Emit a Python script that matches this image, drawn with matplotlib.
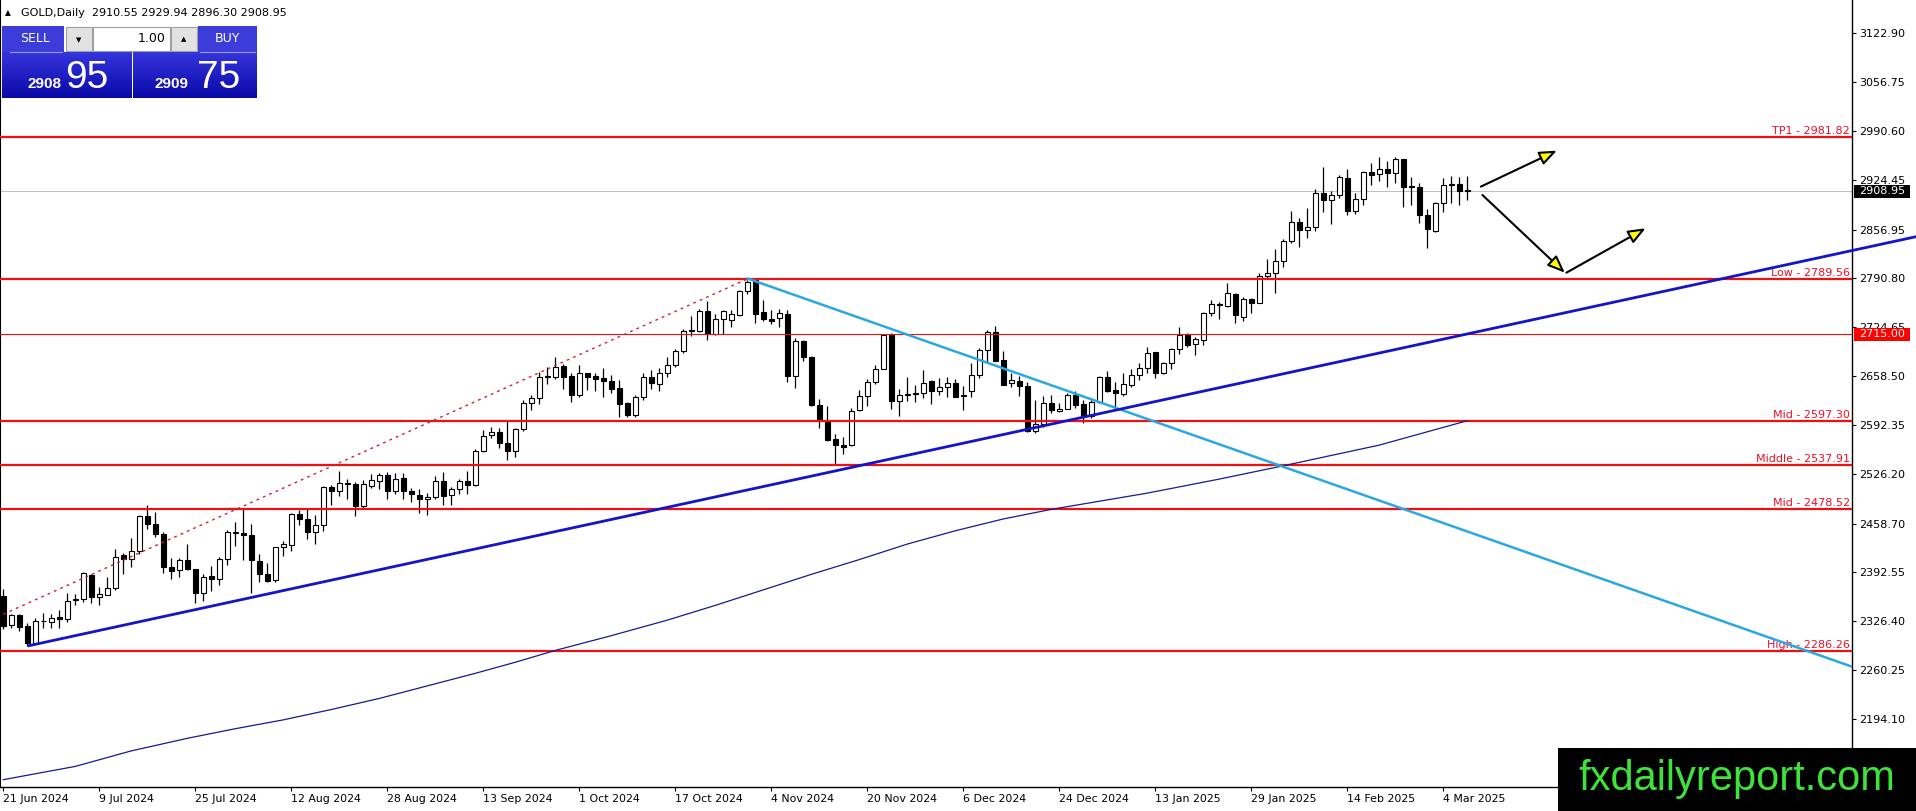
import numpy as np
import matplotlib
matplotlib.use("Agg")
import matplotlib.pyplot as plt
import matplotlib.transforms as mtransforms
from matplotlib.patches import Rectangle
from matplotlib.colors import LinearSegmentedColormap

# GOLD daily candles, 21 Jun 2024 .. 7 Mar 2025 (one value per trading day)
opens = [2360.7, 2321.0, 2335.0, 2320.0, 2297.5, 2327.0, 2326.0, 2332.0, 2329.0, 2355.8,
         2356.0, 2388.7, 2359.0, 2362.5, 2371.0, 2416.2, 2410.3, 2421.6, 2469.0, 2458.2,
         2444.6, 2400.4, 2395.9, 2409.4, 2396.8, 2365.2, 2387.8, 2383.3, 2410.3, 2446.8,
         2446.5, 2442.8, 2408.6, 2390.5, 2382.4, 2426.6, 2429.3, 2471.8, 2465.0, 2446.9,
         2456.4, 2507.9, 2503.4, 2513.3, 2512.4, 2482.6, 2509.7, 2516.9, 2524.1, 2503.4,
         2520.0, 2503.4, 2497.9, 2491.6, 2494.3, 2516.0, 2497.0, 2505.2, 2516.0, 2510.6,
         2557.5, 2578.2, 2582.3, 2568.3, 2557.5, 2586.3, 2621.5, 2628.8, 2657.2, 2656.7,
         2672.1, 2658.5, 2633.3, 2662.2, 2658.5, 2655.8, 2651.3, 2642.3, 2621.5, 2606.2,
         2629.7, 2656.7, 2648.2, 2662.2, 2673.0, 2692.0, 2720.8, 2719.0, 2747.0, 2715.4,
         2735.3, 2734.4, 2740.7, 2773.2, 2788.1, 2745.2, 2735.3, 2737.1, 2742.0, 2658.6,
         2705.5, 2684.3, 2618.8, 2596.3, 2572.8, 2565.6, 2564.7, 2612.0, 2631.5, 2650.4,
         2668.5, 2714.5, 2624.3, 2632.4, 2636.0, 2636.0, 2651.3, 2637.8, 2643.2, 2648.6,
         2633.3, 2637.8, 2659.5, 2693.8, 2718.2, 2680.3, 2648.7, 2651.4, 2645.1, 2584.6,
         2593.6, 2622.5, 2611.7, 2614.4, 2632.4, 2620.7, 2604.9, 2623.9, 2656.8, 2639.7,
         2634.2, 2646.9, 2660.4, 2669.0, 2690.6, 2662.2, 2676.7, 2695.6, 2714.1, 2701.5,
         2707.3, 2744.0, 2755.6, 2753.4, 2769.6, 2738.9, 2762.4, 2757.9, 2794.0, 2797.6,
         2813.9, 2841.8, 2867.1, 2856.3, 2859.9, 2906.8, 2896.9, 2903.2, 2926.3, 2882.5,
         2897.8, 2934.8, 2932.1, 2938.4, 2933.9, 2952.0, 2915.0, 2915.0, 2876.1, 2855.4,
         2892.4, 2917.7, 2918.6, 2910.55]
highs = [2369.7, 2337.0, 2336.3, 2323.7, 2330.5, 2338.0, 2337.0, 2341.8, 2364.3, 2364.0,
         2393.6, 2390.5, 2372.4, 2386.0, 2423.9, 2418.5, 2438.8, 2470.5, 2483.9, 2474.9,
         2447.8, 2411.7, 2411.7, 2431.1, 2397.7, 2390.5, 2401.3, 2413.0, 2450.0, 2461.4,
         2478.0, 2458.0, 2417.6, 2405.9, 2427.5, 2435.6, 2472.7, 2477.2, 2478.1, 2470.4,
         2509.7, 2511.0, 2530.4, 2519.6, 2515.1, 2517.8, 2525.9, 2527.7, 2529.0, 2526.8,
         2527.7, 2506.5, 2505.2, 2499.7, 2523.2, 2528.6, 2507.9, 2518.7, 2529.5, 2559.3,
         2585.5, 2589.1, 2587.7, 2599.0, 2587.7, 2626.0, 2633.3, 2664.4, 2670.3, 2684.7,
         2674.8, 2662.2, 2673.0, 2662.6, 2662.2, 2668.9, 2659.4, 2653.1, 2623.8, 2633.3,
         2662.2, 2666.7, 2668.9, 2683.8, 2695.5, 2721.7, 2739.8, 2748.8, 2759.6, 2742.5,
         2747.9, 2747.9, 2774.5, 2788.1, 2790.3, 2761.0, 2747.5, 2749.7, 2747.5, 2710.0,
         2707.3, 2685.6, 2627.9, 2617.9, 2580.5, 2576.0, 2615.2, 2639.2, 2654.0, 2673.9,
         2715.9, 2717.2, 2640.5, 2656.7, 2645.9, 2666.2, 2652.7, 2655.8, 2657.2, 2655.0,
         2645.0, 2676.0, 2696.0, 2720.9, 2726.3, 2692.9, 2662.2, 2658.6, 2650.9, 2626.1,
         2631.5, 2632.9, 2621.6, 2635.1, 2637.9, 2626.1, 2626.1, 2658.6, 2665.8, 2650.9,
         2663.1, 2668.5, 2676.7, 2697.4, 2691.5, 2678.0, 2696.5, 2724.5, 2716.4, 2710.9,
         2745.7, 2762.0, 2759.3, 2785.0, 2771.4, 2766.0, 2763.8, 2797.6, 2816.6, 2830.1,
         2843.7, 2882.5, 2872.1, 2885.6, 2911.3, 2942.0, 2909.5, 2930.8, 2938.4, 2906.8,
         2936.6, 2946.5, 2954.7, 2950.2, 2955.6, 2952.9, 2928.5, 2919.5, 2884.3, 2894.2,
         2926.7, 2929.4, 2928.5, 2929.94]
lows = [2315.6, 2317.4, 2313.8, 2293.0, 2296.0, 2318.0, 2318.0, 2318.0, 2326.0, 2348.0,
        2353.0, 2350.8, 2348.5, 2361.6, 2369.5, 2390.5, 2400.0, 2418.0, 2451.0, 2441.0,
        2392.3, 2383.3, 2386.9, 2395.9, 2351.7, 2354.4, 2368.0, 2375.6, 2402.7, 2428.4,
        2410.0, 2364.3, 2380.1, 2380.1, 2380.1, 2415.4, 2422.1, 2456.9, 2437.5, 2431.1,
        2449.2, 2483.5, 2496.1, 2491.6, 2469.0, 2480.0, 2507.0, 2505.2, 2491.6, 2498.8,
        2491.6, 2488.5, 2472.7, 2470.9, 2491.6, 2484.4, 2484.4, 2498.8, 2498.8, 2509.7,
        2556.2, 2574.2, 2560.6, 2544.8, 2549.3, 2584.5, 2612.5, 2620.6, 2647.7, 2654.0,
        2640.5, 2623.8, 2630.6, 2639.6, 2638.7, 2630.6, 2636.0, 2603.5, 2603.5, 2602.6,
        2626.0, 2640.5, 2637.8, 2657.6, 2670.3, 2689.2, 2712.7, 2718.1, 2707.3, 2713.6,
        2715.4, 2725.3, 2739.8, 2770.0, 2730.8, 2732.6, 2729.4, 2724.4, 2650.4, 2642.3,
        2678.4, 2617.9, 2588.2, 2570.1, 2539.9, 2553.4, 2563.8, 2610.7, 2617.9, 2648.2,
        2667.6, 2614.3, 2604.4, 2624.3, 2623.4, 2628.8, 2621.1, 2633.3, 2630.6, 2629.7,
        2612.0, 2630.0, 2655.5, 2675.8, 2678.5, 2646.0, 2643.3, 2631.5, 2583.2, 2581.9,
        2590.0, 2608.1, 2609.9, 2613.5, 2614.8, 2595.4, 2601.3, 2622.5, 2637.4, 2614.8,
        2631.5, 2644.2, 2653.2, 2663.1, 2655.4, 2661.3, 2668.5, 2688.4, 2698.3, 2687.5,
        2700.6, 2740.0, 2735.3, 2752.5, 2729.9, 2733.5, 2743.5, 2757.0, 2790.9, 2771.4,
        2806.7, 2838.2, 2832.8, 2845.0, 2854.5, 2880.7, 2864.4, 2899.2, 2876.6, 2877.5,
        2890.1, 2917.7, 2923.1, 2915.0, 2920.4, 2887.0, 2889.7, 2866.2, 2831.5, 2853.6,
        2880.7, 2893.3, 2889.7, 2896.30]
closes = [2320.1, 2334.5, 2318.3, 2297.5, 2327.3, 2326.6, 2330.5, 2329.0, 2354.4, 2356.2,
          2391.4, 2359.0, 2363.4, 2371.5, 2414.0, 2410.4, 2421.6, 2469.0, 2457.7, 2444.2,
          2400.4, 2395.0, 2409.4, 2396.8, 2364.3, 2386.0, 2383.3, 2410.3, 2447.4, 2446.2,
          2442.8, 2409.4, 2390.5, 2381.5, 2426.6, 2430.7, 2471.8, 2464.5, 2446.9, 2456.4,
          2507.9, 2503.4, 2513.3, 2512.9, 2482.6, 2512.4, 2517.8, 2524.1, 2503.4, 2519.6,
          2502.4, 2498.8, 2492.5, 2495.2, 2516.0, 2496.6, 2505.2, 2516.4, 2510.6, 2557.5,
          2577.3, 2582.5, 2568.3, 2557.5, 2586.3, 2621.5, 2628.8, 2656.7, 2657.6, 2671.2,
          2656.7, 2633.3, 2662.2, 2657.6, 2654.9, 2652.2, 2641.4, 2620.6, 2606.2, 2629.7,
          2656.7, 2648.6, 2662.2, 2673.0, 2692.0, 2719.9, 2719.0, 2747.0, 2715.4, 2735.3,
          2746.1, 2742.5, 2773.2, 2785.8, 2742.9, 2735.3, 2733.5, 2743.4, 2658.6, 2705.5,
          2683.8, 2618.8, 2599.9, 2571.5, 2564.7, 2562.0, 2610.7, 2631.5, 2650.4, 2668.5,
          2714.5, 2624.3, 2632.4, 2634.7, 2634.5, 2649.5, 2637.8, 2643.7, 2648.6, 2630.6,
          2631.5, 2659.5, 2693.8, 2718.2, 2679.4, 2646.4, 2653.2, 2645.5, 2584.6, 2593.6,
          2621.6, 2612.6, 2614.4, 2632.9, 2619.3, 2604.9, 2623.9, 2656.8, 2638.8, 2635.1,
          2647.3, 2660.4, 2669.0, 2689.3, 2662.2, 2676.7, 2695.6, 2713.7, 2700.6, 2708.3,
          2744.4, 2755.8, 2755.1, 2770.5, 2740.8, 2762.4, 2757.9, 2794.0, 2798.5, 2813.9,
          2841.8, 2867.1, 2856.3, 2859.9, 2906.8, 2896.9, 2903.2, 2927.6, 2881.6, 2897.8,
          2934.8, 2931.2, 2938.4, 2933.9, 2952.0, 2914.1, 2914.6, 2876.1, 2857.2, 2892.4,
          2916.8, 2918.1, 2909.5, 2908.95]

date_labels = ["21 Jun 2024", "9 Jul 2024", "25 Jul 2024", "12 Aug 2024", "28 Aug 2024",
               "13 Sep 2024", "1 Oct 2024", "17 Oct 2024", "4 Nov 2024", "20 Nov 2024",
               "6 Dec 2024", "24 Dec 2024", "13 Jan 2025", "29 Jan 2025", "14 Feb 2025",
               "4 Mar 2025"]
date_idx = list(range(0, 181, 12))

price_ticks = [3122.90, 3056.75, 2990.60, 2924.45, 2856.95, 2790.80, 2724.65, 2658.50,
               2592.35, 2526.20, 2458.70, 2392.55, 2326.40, 2260.25, 2194.10]

level_names = ["TP1", "Low", "Mid", "Middle", "Mid", "High"]
level_vals = [2981.82, 2789.56, 2597.30, 2537.91, 2478.52, 2286.26]
alert_level = 2715.00
last_price = 2908.95

# moving average
ma_x = [0, 9, 16, 23, 29, 35, 41, 47, 53, 59, 64, 69, 76, 83, 89, 95, 101, 107, 113,
        119, 125, 131, 137, 143, 152, 160, 166, 172, 177, 183]
ma_y = [2112, 2130, 2151, 2168, 2181, 2193, 2207, 2222, 2239, 2256, 2271, 2287, 2307,
        2328, 2348, 2369, 2390, 2410, 2431, 2449, 2465, 2478, 2489, 2500, 2519, 2537,
        2551, 2565, 2580, 2598]

# drawn objects (bar index, price)
trend_x = [3.2, 239.0]
trend_y = [2293.4, 2847.0]
down_x = [93.1, 231.1]
down_y = [2790.4, 2265.0]
dot_x = [0.0, 93.1]
dot_y = [2336.0, 2790.4]
arrow_from = [(184.7, 2915.0), (184.9, 2903.7), (195.4, 2798.5)]
arrow_to = [(194.2, 2963.7), (195.2, 2798.5), (205.3, 2858.6)]

W, H = 1916, 811
RED = "#f01010"
fig = plt.figure(figsize=(W / 100, H / 100), dpi=100)
ax = fig.add_axes([0, 24 / H, 1852 / W, 787 / H])
ax.set_xlim(-0.41, 231.1)
ax.set_ylim(2102.1, 3167.7)

o = np.array(opens); h = np.array(highs); l = np.array(lows); c = np.array(closes)
x = np.arange(len(o))
up = c >= o
lo = np.minimum(o, c)
bh = np.maximum(np.abs(c - o), 0.9)
ax.vlines(x, l, h, color="black", lw=0.9, zorder=3)
ax.bar(x[up], bh[up], bottom=lo[up], width=0.62, facecolor="white",
       edgecolor="black", lw=0.8, zorder=4)
ax.bar(x[~up], bh[~up], bottom=lo[~up], width=0.62, facecolor="black",
       edgecolor="black", lw=0.8, zorder=4)

ax.axhline(last_price, color="#c0c0c0", lw=0.8, zorder=2)

blend = mtransforms.blended_transform_factory(ax.transAxes, ax.transData)
for name, v in zip(level_names, level_vals):
    ax.axhline(v, color=RED, lw=1.6, zorder=5)
    ax.text(1 - 2 / 1852, v + 1.8, "%s - %.2f" % (name, v), transform=blend,
            ha="right", va="bottom", fontsize=8, color="#e8102a", zorder=6)
ax.axhline(alert_level, color=RED, lw=0.8, zorder=5)

ax.plot(ma_x, ma_y, color="#1a1a8c", lw=0.9, zorder=5)
ax.plot(dot_x, dot_y, color="#d0203a", lw=1.0, ls=(0, (2, 3)), zorder=5)
ax.plot(down_x, down_y, color="#2aa8e0", lw=1.8, zorder=6)
ax.plot(trend_x, trend_y, color="#1414c8", lw=2.0, zorder=6, clip_on=False)

for (x0, y0), (x1, y1) in zip(arrow_from, arrow_to):
    ax.annotate("", xy=(x1, y1), xytext=(x0, y0), zorder=7,
                arrowprops=dict(arrowstyle="-|>,head_length=1.05,head_width=0.42",
                                facecolor="#ffff00", edgecolor="black", lw=1.5,
                                shrinkA=0, shrinkB=0))

# axes look (MT4 style)
ax.spines["top"].set_visible(False)
ax.spines["left"].set_linewidth(0.8)
ax.spines["right"].set_linewidth(1.0)
ax.spines["bottom"].set_linewidth(1.0)
ax.yaxis.tick_right()
ax.set_yticks(price_ticks)
ax.set_yticklabels(["%.2f" % t for t in price_ticks])
ax.tick_params(axis="y", direction="out", length=3, width=0.8, pad=2, labelsize=8)
ax.set_xticks(date_idx)
ax.set_xticklabels(date_labels)
ax.tick_params(axis="x", direction="out", length=3, width=0.8, pad=2, labelsize=7.9)
for t in ax.get_xticklabels():
    t.set_ha("left")

# price boxes on the scale
for v, fc in [(last_price, "black"), (alert_level, "#ff0000")]:
    ax.add_patch(Rectangle((1 + 2 / 1852, v - 8.8), 56 / 1852, 17.6, transform=blend,
                           facecolor=fc, edgecolor="none", clip_on=False, zorder=8))
    ax.text(1 + 7 / 1852, v, "%.2f" % v, transform=blend, ha="left", va="center",
            fontsize=8, color="white", zorder=9, clip_on=False)

# overlay in pixel units: trade panel, header, watermark
ov = fig.add_axes([0, 0, 1, 1], zorder=10)
ov.patch.set_alpha(0)
grad = LinearSegmentedColormap.from_list("g", ["#3434dc", "#0a0aa8"])
g = np.linspace(0, 1, 60).reshape(-1, 1)
ov.imshow(g, cmap=grad, aspect="auto", extent=(2, 132, 98, 52), origin="upper")
ov.imshow(g, cmap=grad, aspect="auto", extent=(133, 257, 98, 52), origin="upper")
ov.set_xlim(0, W)
ov.set_ylim(H, 0)
ov.axis("off")

ov.add_patch(Rectangle((2, 26), 62, 26, facecolor="#3c3cda", edgecolor="none"))
ov.add_patch(Rectangle((198, 26), 59, 26, facecolor="#3c3cda", edgecolor="none"))
ov.plot([10, 62], [52, 52], color="#9a9af0", lw=0.8)
ov.plot([200, 255], [52, 52], color="#9a9af0", lw=0.8)
ov.add_patch(Rectangle((66, 27), 26, 24, facecolor="#e2e2e2", edgecolor="#a0a0a0", lw=0.8))
ov.add_patch(Rectangle((93, 27), 77, 24, facecolor="white", edgecolor="#a0a0a0", lw=0.8))
ov.add_patch(Rectangle((171, 27), 26, 24, facecolor="#e2e2e2", edgecolor="#a0a0a0", lw=0.8))
ov.text(79, 40, "\u25bc", ha="center", va="center", fontsize=5)
ov.text(184, 39, "\u25b2", ha="center", va="center", fontsize=5)
ov.text(166, 39, "1.00", ha="right", va="center", fontsize=9)
ov.text(35, 39, "SELL", ha="center", va="center", fontsize=9, color="white")
ov.text(227, 39, "BUY", ha="center", va="center", fontsize=9, color="white")
ov.text(28, 88, "2908", ha="left", va="baseline", fontsize=11, fontweight="bold",
        color="white", family="Liberation Sans")
ov.text(65, 88, "95", ha="left", va="baseline", fontsize=28, color="white",
        family="Liberation Sans")
ov.text(155, 88, "2909", ha="left", va="baseline", fontsize=11, fontweight="bold",
        color="white", family="Liberation Sans")
ov.text(197, 88, "75", ha="left", va="baseline", fontsize=28, color="white",
        family="Liberation Sans")

ov.text(5, 13, "\u25b2", ha="left", va="center", fontsize=5.5)
ov.text(21, 13, "GOLD,Daily  2910.55 2929.94 2896.30 2908.95", ha="left", va="center",
        fontsize=8)

ov.add_patch(Rectangle((1558, 748), 358, 63, facecolor="black", edgecolor="none"))
ov.text(1737, 779, "fxdailyreport.com", ha="center", va="center", fontsize=30,
        color="#3ee23a", family="Liberation Sans")

fig.savefig("out.png", dpi=100)
